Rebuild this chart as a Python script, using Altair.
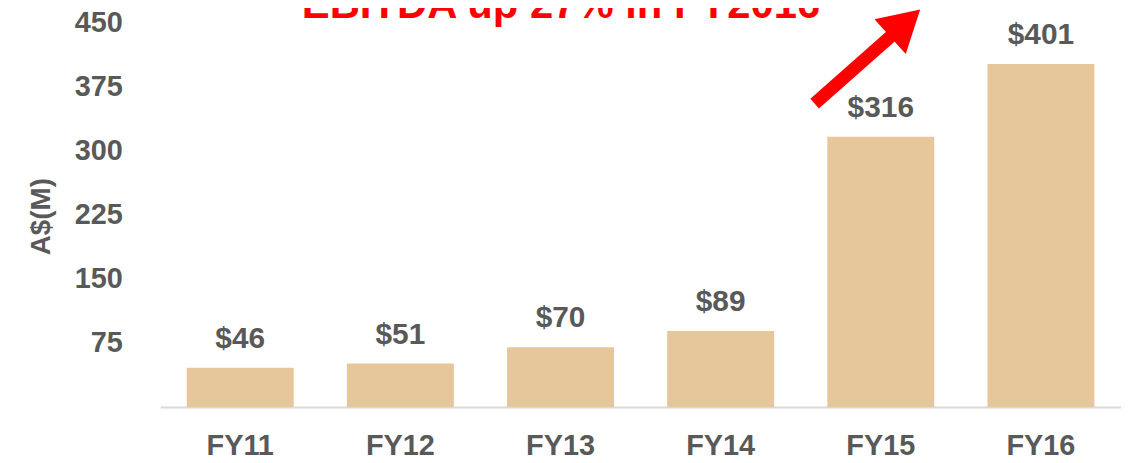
import altair as alt
import pandas as pd

categories = ["FY11", "FY12", "FY13", "FY14", "FY15", "FY16"]
ebitda = [46, 51, 70, 89, 316, 401]
value_labels = ["$46", "$51", "$70", "$89", "$316", "$401"]
y_ticks = [75, 150, 225, 300, 375, 450]
headline = "EBITDA up 27% in FY2016"
y_title = "A$(M)"

GRAY = "#595959"
BAR = "#E5C79B"
RED = "#FF0000"

df = pd.DataFrame({"year": categories, "ebitda": ebitda, "label": value_labels})

x_enc = alt.X(
    "year:N",
    sort=categories,
    scale=alt.Scale(paddingInner=0.332, paddingOuter=0.166),
    axis=alt.Axis(
        title=None, labelAngle=0, labelFont="Liberation Sans", labelFontWeight="bold",
        labelFontSize=29, labelColor=GRAY, labelPadding=25, ticks=False,
        domainColor="#D9D9D9", domainWidth=2,
    ),
)
y_enc = alt.Y(
    "ebitda:Q",
    scale=alt.Scale(domain=[0, 450], nice=False),
    axis=alt.Axis(
        values=y_ticks, grid=False, domain=False, ticks=False, labelPadding=38,
        labelFont="Liberation Sans", labelFontWeight="bold", labelFontSize=29, labelColor=GRAY,
        title=y_title, titleFont="Liberation Sans", titleFontWeight="bold", titleFontSize=28,
        titleColor=GRAY, titleAngle=270, titleX=-119, titleY=195,
        titleAlign="center", titleBaseline="middle",
    ),
)

base = alt.Chart(df)
bars = base.mark_bar(color=BAR).encode(x=x_enc, y=y_enc)
labels = base.mark_text(
    dy=-20, baseline="alphabetic", font="Liberation Sans", fontSize=30,
    fontWeight="bold", color=GRAY,
).encode(x=alt.X("year:N", sort=categories), y="ebitda:Q", text="label:N")

ann = pd.DataFrame({"t": [headline]})
title_txt = alt.Chart(ann).mark_text(
    font="Liberation Sans", fontSize=42, fontWeight="bold", color=RED,
    baseline="alphabetic", align="center",
).encode(x=alt.value(403), y=alt.value(-4), text="t:N")

shaft = alt.Chart(ann).mark_rule(color=RED, strokeWidth=13, strokeCap="butt").encode(
    x=alt.value(658), y=alt.value(82), x2=alt.value(745), y2=alt.value(5)
)
head = alt.Chart(ann).mark_point(
    shape="triangle-up", filled=True, color=RED, opacity=1, size=2209, angle=48, strokeWidth=0
).encode(x=alt.value(749), y=alt.value(1))

chart = alt.layer(bars, labels, title_txt, shaft, head).properties(
    width=966, height=387,
    autosize=alt.AutoSizeParams(type="none"),
    padding={"left": 153, "top": 13, "right": 0, "bottom": 54},
).configure_view(stroke=None)

chart.save("out.html", embed_options={"renderer": "svg", "actions": False})
